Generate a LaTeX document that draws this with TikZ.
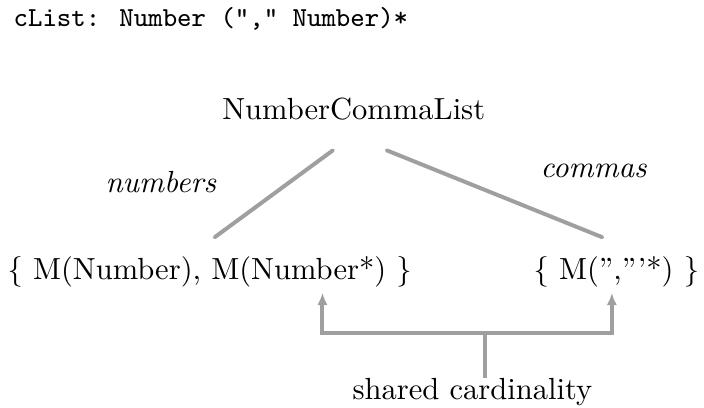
\documentclass[tikz,border=0pt]{standalone}
\usepackage{tikz}
\usetikzlibrary{calc,arrows.meta}
\newcommand{\edgecolor}{gray!75}
\newcommand{\edgewidth}{1.3pt}

\begin{document}
\begin{tikzpicture}[
  txt/.style={inner sep=0pt},
  edge/.style={draw=\edgecolor, line width=\edgewidth, line cap=round},
  card/.style={draw=\edgecolor, line width=\edgewidth, {Latex[length=4pt,width=3.4pt]}-{Latex[length=4pt,width=3.4pt]}}
]
\useasboundingbox (0,0) rectangle (8.10,-4.69);
\node[txt] (rule) at (0.15,-0.31) [anchor=base west] {\small\ttfamily cList: Number ("," Number)*};
\node[txt] (root) at (4.07,-1.38) [anchor=base] {NumberCommaList};
\node[txt] (numbers) at (1.85,-2.22) [anchor=base] {\itshape numbers};
\node[txt] (commas) at (6.83,-2.04) [anchor=base] {\itshape commas};
\node[txt] (lset) at (0.08,-3.22) [anchor=base west] {\{ M(Number), M(Number*) \}};
\node[txt] (rset) at (8.05,-3.22) [anchor=base east] {\{ M('','''*) \}};
\node[txt] (shared) at (4.05,-4.60) [anchor=base west] {shared cardinality};
%tree edges
\coordinate (rootL) at ($(root.base)+(-0.24,-0.35)$);
\coordinate (rootR) at ($(root.base)+(0.38,-0.35)$);
\coordinate (lsetT) at ($(lset.base west)+(2.39,0.49)$);
\coordinate (rsetT) at ($(rset.base east)+(-1.12,0.49)$);
\draw[edge] (rootL) -- (lsetT);
\draw[edge] (rootR) -- (rsetT);
%shared cardinality
\coordinate (tipL) at ($(lset.base west)+(3.63,-0.15)$);
\coordinate (tipR) at ($(rset.base east)+(-1.01,-0.15)$);
\coordinate (fork) at ($(tipL)!0.5!(tipR)+(0.2,-0.46)$);
\draw[card] (tipL) -- ++(0,-0.46) -| (tipR);
\draw[edge, line cap=butt] (fork) -- (fork |- shared.north);
\end{tikzpicture}
\end{document}
